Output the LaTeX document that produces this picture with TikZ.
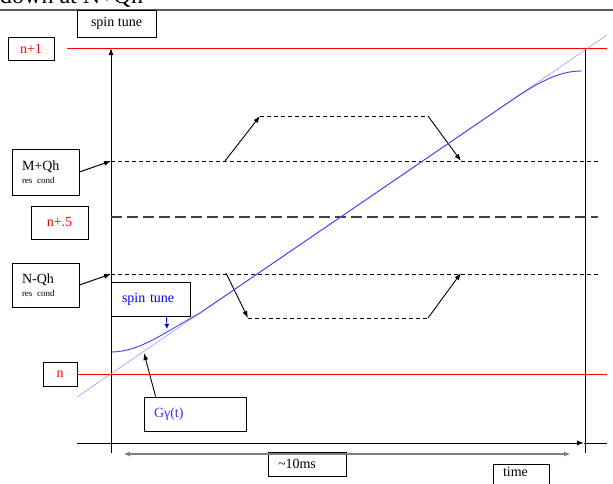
\documentclass[tikz,border=0pt]{standalone}
\usepackage{fontspec}
\setmainfont{Liberation Serif}
\usetikzlibrary{arrows.meta,positioning,calc}

\begin{document}
\begin{tikzpicture}[x=1pt, y=-1pt, >={Latex[length=7pt,width=5pt]}, font=\fontsize{14}{16}\selectfont]
\tikzstyle{box}=[draw, line width=0.8pt, inner sep=0pt]
\tikzstyle{lbox}=[box, align=left, inner xsep=10pt]
\tikzstyle{axis}=[line width=1pt]
\tikzstyle{level}=[red, line width=1pt]
\tikzstyle{res}=[dash pattern=on 4pt off 3pt, line width=0.9pt]
\tikzstyle{half}=[dash pattern=on 11pt off 5pt, line width=1.2pt, black!75]
\tikzstyle{small}=[font=\fontsize{9.5}{11}\selectfont]
\useasboundingbox (0,0) rectangle (613,483);

% header
\node[anchor=south west, inner sep=0pt, font=\fontsize{24}{26}\selectfont] (head) at (0,8) {down at N+Qh};
\draw[gray!70!black, line width=2pt] (0,10) -- (613,10);

% labels
\node[box, minimum width=79pt, minimum height=27pt] (tune) at (116.5,23.5) {spin tune};
\node[box, minimum width=46pt, minimum height=23pt, text=red] (np1) at (31,48.5) {n+1};
\node[lbox, text width=47pt, minimum height=46pt] (mqh) at (45.5,172) {M+Qh\\[-3pt]{\small res cond}};
\node[box, minimum width=57pt, minimum height=33pt, text=red] (nhalf) at (59.5,222.5) {n+.5};
\node[lbox, text width=47pt, minimum height=44pt] (nqh) at (45.5,285) {N-Qh\\[-3pt]{\small res cond}};
\node[lbox, inner xsep=11pt, text width=57pt, minimum height=34pt, text=blue] (stune) at (150.5,299) {spin tune};
\node[box, minimum width=34pt, minimum height=24pt, text=red] (n) at (60,374) {n};
\node[lbox, text width=82pt, minimum height=34pt, text=blue!80] (ggt) at (195,414) {Gγ(t)};
\node[lbox, text width=58pt, minimum height=24pt] (ms) at (307,464) {\textasciitilde10ms};
\node[lbox, anchor=north, text width=36pt, inner ysep=3pt, minimum height=26pt, text height=9pt, text depth=14pt] (time) at (521,464) {time};

% axes
\coordinate (o) at (111,443);
\coordinate (ytop) at (111,48);
\coordinate (xend) at (584,443);
\draw[axis,->] (111,453) -- (ytop);
\draw[axis,->] (77,443) -- (xend);
\draw[axis] (585,48) -- (585,453);
\draw[axis] (xend) -- (607,443);
\draw[<->, gray, line width=1.5pt] (123,454) -- (571,454);

% tune levels
\draw[level] (67,48) -- (607,48);
\draw[level] (n.east) -- (607,374);
\draw[res] (111,161) -- (598,161);
\draw[half] (111,217) -- (598,217);
\draw[res] (111,274) -- (598,274);
\draw[axis,->] (mqh.east) -- (111,161);
\draw[axis,->] (nqh.east) -- (111,274);

% jumps
\coordinate (u1) at (225,161);
\coordinate (u2) at (260,116);
\coordinate (u3) at (428,116);
\coordinate (u4) at (461,161);
\coordinate (l1) at (226,273);
\coordinate (l2) at (248,318);
\coordinate (l3) at (428,318);
\coordinate (l4) at (461,273);
\draw[->, line width=0.9pt] (u1) -- (u2);
\draw[res] (u2) -- (u3);
\draw[->, line width=0.9pt] (u3) -- (u4);
\draw[->, line width=0.9pt] (l1) -- (l2);
\draw[res] (l2) -- (l3);
\draw[->, line width=0.9pt] (l3) -- (l4);

% G gamma and spin tune
\draw[blue!45, line width=0.5pt] (77,397) -- (607,35);
\draw[blue!75, line width=0.9pt] (111,352) .. controls (140,352) and (165,332) .. (200,313)
  -- (515,98) .. controls (548,76) and (565,71) .. (582,71);
\coordinate (gtip) at (144,353);
\coordinate (stip) at (167,329);
\draw[->, line width=0.9pt] ($(ggt.north west)+(12,0)$) -- (gtip);
\draw[->, blue, line width=0.9pt, >={Latex[length=5pt,width=5pt]}] ($(stune.south)+(16,0)$) -- (stip);
\end{tikzpicture}
\end{document}
